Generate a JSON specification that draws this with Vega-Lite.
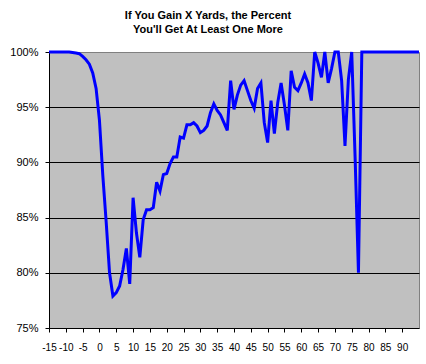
{
  "$schema": "https://vega.github.io/schema/vega-lite/v6.json",
  "autosize": {"type": "none"},
  "padding": {"left": 49, "top": 52, "right": 7, "bottom": 36},
  "width": 370,
  "height": 276,
  "background": "white",
  "title": {
    "text": ["If You Gain X Yards, the Percent", "You'll Get At Least One More"],
    "font": "Liberation Sans",
    "fontSize": 11,
    "fontWeight": "bold",
    "lineHeight": 14.5,
    "color": "black",
    "anchor": "middle",
    "frame": "group",
    "dx": -26,
    "offset": 11
  },
  "config": {
    "view": {"fill": "#C0C0C0", "stroke": "#808080", "strokeWidth": 1},
    "axis": {"labelFont": "Liberation Sans", "labelColor": "black", "domainColor": "black", "tickColor": "black", "tickSize": 4}
  },
  "data": {
    "values": [
      {"yards": -15, "pct": 1.0}, {"yards": -14, "pct": 1.0}, {"yards": -13, "pct": 1.0}, {"yards": -12, "pct": 1.0},
      {"yards": -11, "pct": 1.0}, {"yards": -10, "pct": 1.0}, {"yards": -9, "pct": 1.0}, {"yards": -8, "pct": 0.9995},
      {"yards": -7, "pct": 0.999}, {"yards": -6, "pct": 0.9985}, {"yards": -5, "pct": 0.996}, {"yards": -4, "pct": 0.993},
      {"yards": -3, "pct": 0.989}, {"yards": -2, "pct": 0.981}, {"yards": -1, "pct": 0.967}, {"yards": 0, "pct": 0.938},
      {"yards": 1, "pct": 0.888}, {"yards": 2, "pct": 0.846}, {"yards": 3, "pct": 0.800}, {"yards": 4, "pct": 0.779},
      {"yards": 5, "pct": 0.782}, {"yards": 6, "pct": 0.788}, {"yards": 7, "pct": 0.803}, {"yards": 8, "pct": 0.822},
      {"yards": 9, "pct": 0.790}, {"yards": 10, "pct": 0.868}, {"yards": 11, "pct": 0.836}, {"yards": 12, "pct": 0.814},
      {"yards": 13, "pct": 0.848}, {"yards": 14, "pct": 0.857}, {"yards": 15, "pct": 0.857}, {"yards": 16, "pct": 0.859},
      {"yards": 17, "pct": 0.882}, {"yards": 18, "pct": 0.874}, {"yards": 19, "pct": 0.889}, {"yards": 20, "pct": 0.890},
      {"yards": 21, "pct": 0.899}, {"yards": 22, "pct": 0.905}, {"yards": 23, "pct": 0.905}, {"yards": 24, "pct": 0.923},
      {"yards": 25, "pct": 0.922}, {"yards": 26, "pct": 0.934}, {"yards": 27, "pct": 0.934}, {"yards": 28, "pct": 0.936},
      {"yards": 29, "pct": 0.933}, {"yards": 30, "pct": 0.927}, {"yards": 31, "pct": 0.929}, {"yards": 32, "pct": 0.933},
      {"yards": 33, "pct": 0.945}, {"yards": 34, "pct": 0.953}, {"yards": 35, "pct": 0.947}, {"yards": 36, "pct": 0.943},
      {"yards": 37, "pct": 0.936}, {"yards": 38, "pct": 0.929}, {"yards": 39, "pct": 0.974}, {"yards": 40, "pct": 0.948},
      {"yards": 41, "pct": 0.961}, {"yards": 42, "pct": 0.970}, {"yards": 43, "pct": 0.974}, {"yards": 44, "pct": 0.965},
      {"yards": 45, "pct": 0.956}, {"yards": 46, "pct": 0.949}, {"yards": 47, "pct": 0.967}, {"yards": 48, "pct": 0.972},
      {"yards": 49, "pct": 0.936}, {"yards": 50, "pct": 0.918}, {"yards": 51, "pct": 0.956}, {"yards": 52, "pct": 0.926},
      {"yards": 53, "pct": 0.954}, {"yards": 54, "pct": 0.972}, {"yards": 55, "pct": 0.952}, {"yards": 56, "pct": 0.929},
      {"yards": 57, "pct": 0.983}, {"yards": 58, "pct": 0.968}, {"yards": 59, "pct": 0.965}, {"yards": 60, "pct": 0.972},
      {"yards": 61, "pct": 0.980}, {"yards": 62, "pct": 0.972}, {"yards": 63, "pct": 0.956}, {"yards": 64, "pct": 1.0},
      {"yards": 65, "pct": 0.990}, {"yards": 66, "pct": 0.977}, {"yards": 67, "pct": 1.0}, {"yards": 68, "pct": 0.972},
      {"yards": 69, "pct": 0.985}, {"yards": 70, "pct": 1.0}, {"yards": 71, "pct": 1.0}, {"yards": 72, "pct": 0.974},
      {"yards": 73, "pct": 0.915}, {"yards": 74, "pct": 0.975}, {"yards": 75, "pct": 1.0}, {"yards": 76, "pct": 0.905},
      {"yards": 77, "pct": 0.800}, {"yards": 78, "pct": 1.0}, {"yards": 79, "pct": 1.0}, {"yards": 80, "pct": 1.0},
      {"yards": 81, "pct": 1.0}, {"yards": 82, "pct": 1.0}, {"yards": 83, "pct": 1.0}, {"yards": 84, "pct": 1.0},
      {"yards": 85, "pct": 1.0}, {"yards": 86, "pct": 1.0}, {"yards": 87, "pct": 1.0}, {"yards": 88, "pct": 1.0},
      {"yards": 89, "pct": 1.0}, {"yards": 90, "pct": 1.0}, {"yards": 91, "pct": 1.0}, {"yards": 92, "pct": 1.0},
      {"yards": 93, "pct": 1.0}, {"yards": 94, "pct": 1.0}, {"yards": 95, "pct": 1.0}
    ]
  },
  "mark": {"type": "line", "color": "#0000FF", "strokeWidth": 3, "clip": false},
  "encoding": {
    "x": {
      "field": "yards",
      "type": "quantitative",
      "scale": {"domain": [-15, 95], "nice": false, "zero": false},
      "axis": {
        "title": null,
        "values": [-15, -10, -5, 0, 5, 10, 15, 20, 25, 30, 35, 40, 45, 50, 55, 60, 65, 70, 75, 80, 85, 90],
        "labelExpr": "'' + datum.value",
        "labelFontSize": 10,
        "labelOverlap": false,
        "labelFlush": false,
        "labelPadding": 10,
        "grid": false
      }
    },
    "y": {
      "field": "pct",
      "type": "quantitative",
      "scale": {"domain": [0.75, 1], "nice": false, "zero": false},
      "axis": {
        "title": null,
        "values": [0.75, 0.8, 0.85, 0.9, 0.95, 1],
        "format": ".0%",
        "labelFontSize": 11,
        "labelPadding": 7,
        "labelFlush": false,
        "grid": true,
        "gridColor": "black",
        "gridOpacity": {"condition": {"test": "datum.value >= 0.999 || datum.value <= 0.751", "value": 0}, "value": 1}
      }
    }
  }
}
